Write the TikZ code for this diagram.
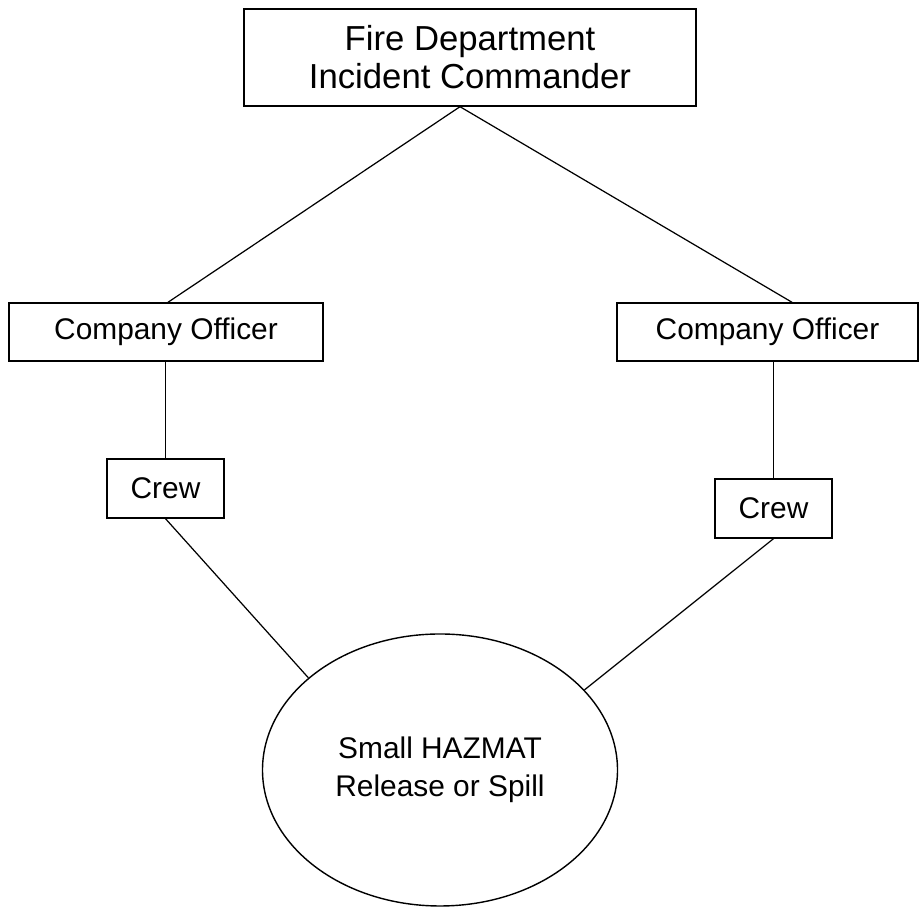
\documentclass[tikz,border=0pt]{standalone}
\usepackage{fontspec}
\setmainfont{Liberation Sans}
\usetikzlibrary{positioning,calc,shapes.geometric}

\begin{document}
\begin{tikzpicture}[
 box/.style={draw,line width=0.8pt,inner sep=0pt,align=center,font=\fontsize{17}{21.6}\selectfont},
 link/.style={line width=0.7pt}]
\useasboundingbox (0,0) rectangle (18.38,18.14);
\node[box,minimum width=9.04cm,minimum height=1.94cm,font=\fontsize{19.75}{21.6}\selectfont]
 (cmd) at (9.40,16.99) {Fire Department\\Incident Commander};
\node[box,minimum width=6.28cm,minimum height=1.16cm] (coL) at (3.32,11.50) {Company Officer};
\node[box,minimum width=6.02cm,minimum height=1.16cm] (coR) at (15.35,11.50) {Company Officer};
\node[box,minimum width=2.34cm,minimum height=1.18cm] (crewL) at (3.31,8.37) {Crew};
\node[box,minimum width=2.34cm,minimum height=1.18cm] (crewR) at (15.47,7.97) {Crew};
\node[box,ellipse,minimum width=7.10cm,minimum height=5.44cm] (spill) at (8.80,2.74)
 {Small HAZMAT\\Release or Spill};
\draw[link] ([xshift=-0.2cm]cmd.south) -- ([xshift=0.04cm]coL.north);
\draw[link] ([xshift=-0.2cm]cmd.south) -- ([xshift=0.49cm]coR.north);
\draw[link] (coL.south -| crewL.north) -- (crewL.north);
\draw[link] (coR.south -| crewR.north) -- (crewR.north);
\draw[link] (crewL.south) -- (spill.145);
\draw[link] (crewR.south) -- (spill.29);
\end{tikzpicture}
\end{document}
